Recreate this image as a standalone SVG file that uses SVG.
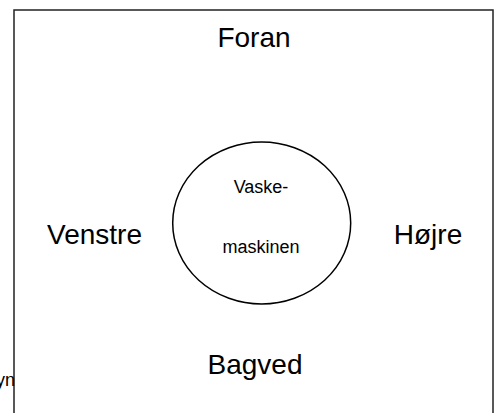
<svg xmlns="http://www.w3.org/2000/svg" width="494" height="413" viewBox="0 0 494 413">
<style>
.t{font-family:"Liberation Sans",Arial,sans-serif;fill:#000;text-anchor:middle}
.big{font-size:28px}
.small{font-size:18px}
.shape{fill:#fff;stroke:#000;stroke-width:1.5}
</style>
<rect width="494" height="413" fill="#fff"/>
<g id="frame">
<rect x="14" y="10" width="479" height="420" fill="none" stroke="#222" stroke-width="1.5"/>
</g>
<text class="t small" x="15" y="386" style="text-anchor:end">yn</text>
<g id="foran"><text class="t big" x="254" y="47">Foran</text></g>
<g id="venstre"><text class="t big" x="94.5" y="244">Venstre</text></g>
<g id="hoejre"><text class="t big" x="428" y="244">Højre</text></g>
<g id="bagved"><text class="t big" x="255" y="374">Bagved</text></g>
<g id="vaskemaskinen">
<ellipse class="shape" cx="261.7" cy="223" rx="89" ry="81"/>
<text class="t small" x="261" y="193">Vaske-</text>
<text class="t small" x="261" y="253">maskinen</text>
</g>
<g id="connectors"></g>
</svg>
